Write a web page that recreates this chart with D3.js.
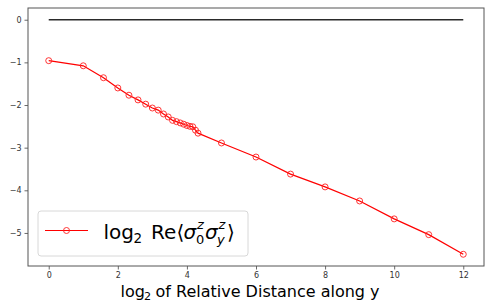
<!DOCTYPE html>
<html><head><meta charset="utf-8">
<script src="https://cdn.jsdelivr.net/npm/d3@7"></script>
<style>body{margin:0;background:#fff}svg{display:block}</style>
</head><body>
<svg id="c" width="486" height="302"></svg>
<script>
// Data
const distances = [1,2,3,4,5,6,7,8,9,10,11,12,13,14,15,16,17,18,19,20,32,64,128,256,512,1024,2048,4096];
const corrValues = [-0.96,-1.08,-1.36,-1.60,-1.77,-1.88,-1.98,-2.07,-2.12,-2.21,-2.28,-2.36,-2.39,-2.42,-2.45,-2.48,-2.50,-2.51,-2.59,-2.66,-2.89,-3.22,-3.62,-3.92,-4.25,-4.67,-5.04,-5.50];
const refX = [0,12];
const refY = [0,0];
const xTicks = [0,2,4,6,8,10,12];
const yTicks = [0,-1,-2,-3,-4,-5];

const W=486,H=302, m={l:28,t:8,r:2,b:36};
const svg=d3.select("#c");
const xs=d3.scaleLinear().domain([-0.6,12.6]).range([m.l,W-m.r]);
const ys=d3.scaleLinear().domain([-5.775,0.275]).range([H-m.b,m.t]);
const FONT="DejaVu Sans, sans-serif";

const pts=distances.map((d,i)=>({x:Math.log2(d),y:corrValues[i]}));
const line=d3.line().x(d=>xs(d.x)).y(d=>ys(d.y));

// reference line
svg.append("path").datum(refX.map((x,i)=>({x,y:refY[i]}))).attr("d",line)
  .attr("fill","none").attr("stroke","#2a2a2a").attr("stroke-width",1.5);
// series
svg.append("path").datum(pts).attr("d",line).attr("fill","none").attr("stroke","#ff0000").attr("stroke-width",1.2);
svg.selectAll("circle.pt").data(pts).enter().append("circle").attr("class","pt")
  .attr("cx",d=>xs(d.x)).attr("cy",d=>ys(d.y)).attr("r",3)
  .attr("fill","none").attr("stroke","#ff2020").attr("stroke-width",0.9);

// axes
const fmt=d=>d<0?"\u2212"+Math.abs(d):String(d);
const xa=svg.append("g").attr("transform",`translate(0,${H-m.b})`)
  .call(d3.axisBottom(xs).tickValues(xTicks).tickFormat(fmt).tickSize(3.5).tickPadding(3));
const ya=svg.append("g").attr("transform",`translate(${m.l},0)`)
  .call(d3.axisLeft(ys).tickValues(yTicks).tickFormat(fmt).tickSize(3.5).tickPadding(3));
[xa,ya].forEach(a=>{a.select(".domain").remove();a.selectAll("line").attr("stroke","#444").attr("stroke-width",0.8);
  a.selectAll("text").attr("font-family",FONT).attr("font-size",8).attr("fill","#333");});
// frame
svg.append("rect").attr("x",m.l).attr("y",m.t).attr("width",W-m.l-m.r).attr("height",H-m.t-m.b)
  .attr("fill","none").attr("stroke","#555").attr("stroke-width",1);

// rich text: one text element, tspans placed at offsets
function rich(g,x0,y0,parts){
  const t=g.append("text").attr("font-family",FONT).attr("fill","#000");
  parts.forEach(p=>{
    t.append("tspan").attr("x",x0+p.dx).attr("y",y0+(p.dy||0)).attr("font-size",p.size)
      .attr("font-style",p.it?"italic":"normal").text(p.t);
  });
  return t;
}

// legend
const lg=svg.append("g");
lg.append("rect").attr("x",38).attr("y",211).attr("width",210).attr("height",45).attr("rx",3)
  .attr("fill","#fff").attr("fill-opacity",0.8).attr("stroke","#d8d8d8").attr("stroke-width",1);
lg.append("line").attr("x1",45).attr("x2",88).attr("y1",230.5).attr("y2",230.5).attr("stroke","#ff0000").attr("stroke-width",1.2);
lg.append("circle").attr("cx",66.5).attr("cy",230.5).attr("r",3).attr("fill","none").attr("stroke","#ff2020").attr("stroke-width",0.9);
const fs=20, ss=13.5, sb=13;
rich(lg,103.5,238.5,[
  {t:"log",size:fs,dx:0},{t:"2",size:ss,dx:30,dy:4.5},{t:"Re",size:fs,dx:47.5},{t:"\u27E8",size:fs,dx:73},
  {t:"\u03C3",size:fs,it:true,dx:80},{t:"z",size:sb,it:true,dx:93.5,dy:-10},{t:"0",size:sb,dx:92.5,dy:5.5},
  {t:"\u03C3",size:fs,it:true,dx:101.5},{t:"z",size:sb,it:true,dx:115,dy:-10},{t:"y",size:sb,it:true,dx:113.5,dy:5.5},
  {t:"\u27E9",size:fs,dx:123.5}
]);

// x label
const xl=svg.append("g");
rich(xl,120.5,296.5,[{t:"log",size:16,dx:0},{t:"2",size:11.2,dx:23.5,dy:3.5},{t:"of Relative Distance along y",size:16,dx:35}]);
</script>
</body></html>
